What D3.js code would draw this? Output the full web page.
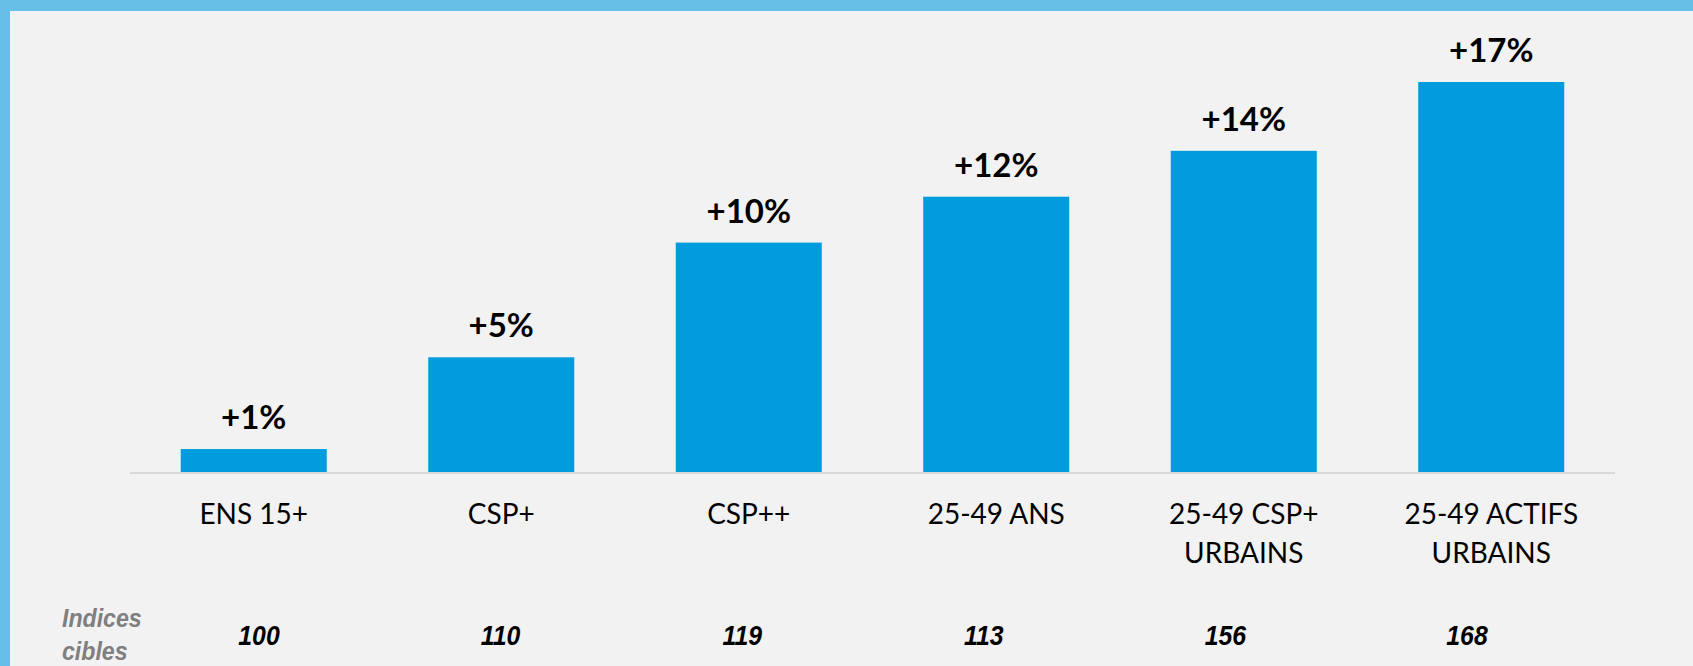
<!DOCTYPE html>
<html>
<head>
<meta charset="utf-8">
<script src="https://cdn.jsdelivr.net/npm/d3@7"></script>
<style>
    html, body { margin: 0; padding: 0; background: #f2f2f2; }
    svg { display: block; }
</style>
</head>
<body>
<div id="chart"></div>
<script>
const categories = [
    ['ENS 15+'],
    ['CSP+'],
    ['CSP++'],
    ['25-49 ANS'],
    ['25-49 CSP+', 'URBAINS'],
    ['25-49 ACTIFS', 'URBAINS']
];
const gains = [1, 5, 10, 12, 14, 17];
const gainLabels = ['+1%', '+5%', '+10%', '+12%', '+14%', '+17%'];
const indices = [100, 110, 119, 113, 156, 168];
const indexTitle = ['Indices', 'cibles'];

const drawChart = function() {
    const width = 1693;
    const height = 666;
    const marginLeft = 130;
    const marginRight = 78;
    const baseY = 472;
    const topY = 82;

    const names = categories.map(c => c.join(' '));

    const x = d3.scaleBand()
        .domain(names)
        .range([marginLeft, width - marginRight])
        .paddingInner(0.41)
        .paddingOuter(0.205);

    const y = d3.scaleLinear()
        .domain([0, d3.max(gains)])
        .range([baseY, topY]);

    // index row is placed by hand in the original, drifting a bit to the left
    const xIdx = d3.scalePoint()
        .domain(names)
        .range([259, 1467]);

    const svg = d3.create('svg')
        .attr('width', width)
        .attr('height', height)
        .attr('viewBox', [0, 0, width, height]);

    svg.append('rect')
        .attr('width', width)
        .attr('height', height)
        .attr('fill', '#f2f2f2');

    // frame
    svg.append('rect')
        .attr('width', width)
        .attr('height', 11)
        .attr('fill', '#67bee6');
    svg.append('rect')
        .attr('width', 10)
        .attr('height', height)
        .attr('fill', '#67bee6');

    svg.append('g')
        .attr('fill', '#009cde')
        .selectAll()
        .data(gains)
        .join('rect')
        .attr('x', (d, i) => x(names[i]))
        .attr('y', d => y(d))
        .attr('width', x.bandwidth())
        .attr('height', d => y(0) - y(d));

    // baseline
    svg.append('line')
        .attr('x1', marginLeft)
        .attr('x2', width - marginRight)
        .attr('y1', baseY + 1)
        .attr('y2', baseY + 1)
        .attr('stroke', '#d9d9d9')
        .attr('stroke-width', 2);

    svg.append('g')
        .attr('font-family', 'Lato, "Open Sans", sans-serif')
        .attr('font-weight', 'bold')
        .attr('font-size', 33)
        .attr('text-anchor', 'middle')
        .attr('fill', '#000')
        .selectAll()
        .data(gains)
        .join('text')
        .attr('x', (d, i) => x(names[i]) + x.bandwidth() / 2)
        .attr('y', d => y(d) - 20)
        .text((d, i) => gainLabels[i]);

    const cat = svg.append('g')
        .attr('font-family', 'Lato, "Open Sans", sans-serif')
        .attr('font-size', 28)
        .attr('text-anchor', 'middle')
        .attr('fill', '#000')
        .selectAll()
        .data(categories)
        .join('text')
        .attr('x', (d, i) => x(names[i]) + x.bandwidth() / 2)
        .attr('y', 524);
    cat.selectAll('tspan')
        .data(d => d)
        .join('tspan')
        .attr('x', function() { return this.parentNode.getAttribute('x'); })
        .attr('dy', (d, i) => i === 0 ? 0 : 39)
        .text(d => d);

    // no narrow face installed: squeeze Liberation Sans a little
    const narrow = '"Liberation Sans", Arial, sans-serif';

    svg.append('g')
        .attr('font-family', narrow)
        .attr('font-weight', 'bold')
        .attr('font-style', 'italic')
        .attr('font-size', 26)
        .attr('fill', '#7f7f7f')
        .selectAll()
        .data(indexTitle)
        .join('text')
        .attr('transform', (d, i) => `translate(62,${627 + i * 32.5}) scale(0.89,1)`)
        .text(d => d);

    svg.append('g')
        .attr('font-family', narrow)
        .attr('font-weight', 'bold')
        .attr('font-style', 'italic')
        .attr('font-size', 27)
        .attr('text-anchor', 'middle')
        .attr('fill', '#000')
        .selectAll()
        .data(indices)
        .join('text')
        .attr('transform', (d, i) => `translate(${xIdx(names[i])},645) scale(0.92,1)`)
        .text(d => d);

    document.getElementById('chart').append(svg.node());
};

drawChart();
</script>
</body>
</html>
